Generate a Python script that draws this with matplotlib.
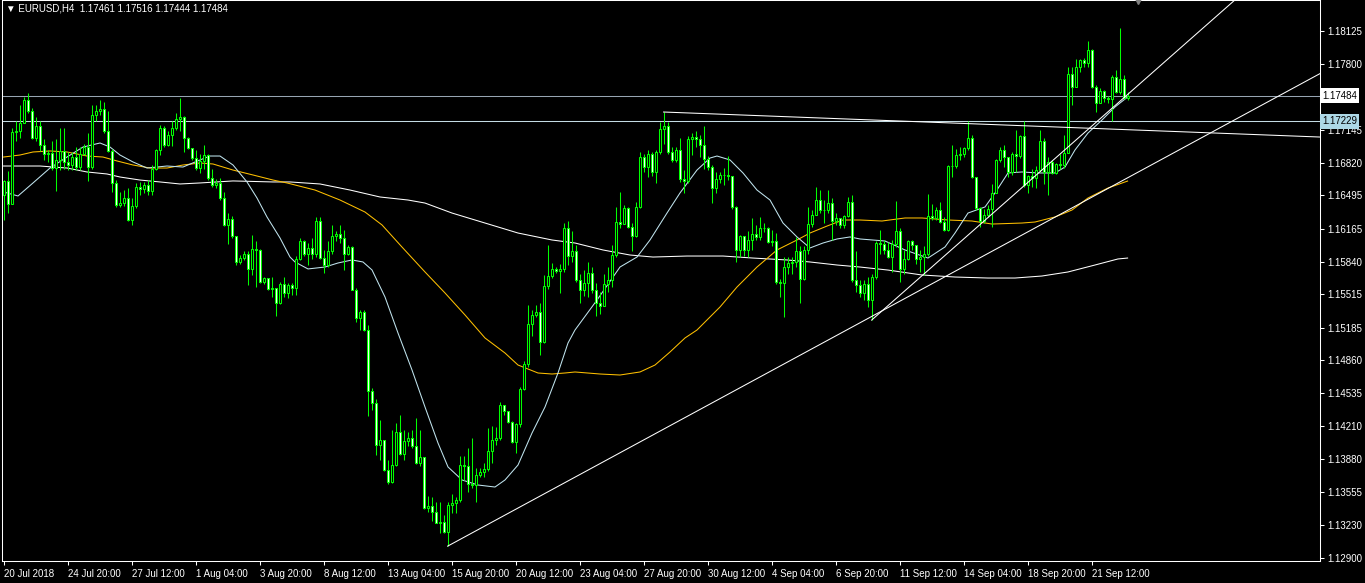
import numpy as np
import matplotlib
matplotlib.use("Agg")
import matplotlib.pyplot as plt
from matplotlib.transforms import blended_transform_factory

# ---------------------------------------------------------------
# data (bar index = position on chart)
# ---------------------------------------------------------------
symbol = "EURUSD,H4"
first_open = 1.1650

close = [
    1.1664, 1.1641, 1.1712, 1.1713, 1.1721, 1.1744, 1.1733, 1.1706, 1.1718, 1.1700,
    1.1691, 1.1692, 1.1677, 1.1685, 1.1694, 1.1683, 1.1680, 1.1688, 1.1678, 1.1691,
    1.1698, 1.1678, 1.1729, 1.1733, 1.1735, 1.1713, 1.1694, 1.1662, 1.1640, 1.1642,
    1.1647, 1.1625, 1.1639, 1.1658, 1.1656, 1.1660, 1.1654, 1.1676, 1.1695, 1.1716,
    1.1700, 1.1709, 1.1716, 1.1725, 1.1727, 1.1706, 1.1697, 1.1687, 1.1677, 1.1684,
    1.1690, 1.1667, 1.1660, 1.1662, 1.1647, 1.1620, 1.1626, 1.1609, 1.1584, 1.1588,
    1.1592, 1.1577, 1.1596, 1.1595, 1.1564, 1.1568, 1.1557, 1.1558, 1.1543, 1.1562,
    1.1553, 1.1561, 1.1558, 1.1587, 1.1604, 1.1592, 1.1597, 1.1592, 1.1624, 1.1588,
    1.1581, 1.1594, 1.1609, 1.1611, 1.1607, 1.1592, 1.1598, 1.1556, 1.1528, 1.1534,
    1.1516, 1.1456, 1.1444, 1.1402, 1.1407, 1.1377, 1.1366, 1.1382, 1.1415, 1.1393,
    1.1406, 1.1409, 1.1401, 1.1384, 1.1390, 1.1340, 1.1342, 1.1336, 1.1325, 1.1326,
    1.1316, 1.1343, 1.1345, 1.1348, 1.1382, 1.1381, 1.1364, 1.1363, 1.1373, 1.1375,
    1.1378, 1.1396, 1.1407, 1.1409, 1.1442, 1.1436, 1.1425, 1.1405, 1.1423, 1.1458,
    1.1483, 1.1522, 1.1531, 1.1534, 1.1504, 1.1560, 1.1570, 1.1577, 1.1575, 1.1577,
    1.1617, 1.1590, 1.1594, 1.1566, 1.1556, 1.1563, 1.1573, 1.1556, 1.1543, 1.1540,
    1.1562, 1.1566, 1.1591, 1.1623, 1.1621, 1.1637, 1.1618, 1.1609, 1.1638, 1.1688,
    1.1678, 1.1691, 1.1673, 1.1693, 1.1715, 1.1718, 1.1693, 1.1685, 1.1695, 1.1666,
    1.1664, 1.1705, 1.1707, 1.1705, 1.1700, 1.1686, 1.1678, 1.1657, 1.1666, 1.1670,
    1.1670, 1.1669, 1.1638, 1.1595, 1.1609, 1.1595, 1.1605, 1.1611, 1.1608, 1.1617,
    1.1617, 1.1603, 1.1604, 1.1564, 1.1563, 1.1579, 1.1583, 1.1584, 1.1594, 1.1567,
    1.1595, 1.1621, 1.1630, 1.1645, 1.1635, 1.1635, 1.1642, 1.1624, 1.1627, 1.1620,
    1.1629, 1.1643, 1.1566, 1.1561, 1.1553, 1.1562, 1.1546, 1.1569, 1.1602, 1.1601,
    1.1595, 1.1589, 1.1601, 1.1614, 1.1577, 1.1587, 1.1604, 1.1600, 1.1587, 1.1589,
    1.1592, 1.1629, 1.1627, 1.1635, 1.1623, 1.1615, 1.1679, 1.1679, 1.1690, 1.1691,
    1.1697, 1.1706, 1.1668, 1.1637, 1.1624, 1.1630, 1.1636, 1.1652, 1.1685, 1.1695,
    1.1688, 1.1673, 1.1691, 1.1689, 1.1708, 1.1660, 1.1669, 1.1667, 1.1675, 1.1703,
    1.1673, 1.1683, 1.1672, 1.1681, 1.1680, 1.1692, 1.1770, 1.1757, 1.1777, 1.1784,
    1.1781, 1.1794, 1.1757, 1.1741, 1.1753, 1.1746, 1.1745, 1.1767, 1.1752, 1.1765,
    1.17461, 1.17484,
]

high = [
    1.1665, 1.1674, 1.1716, 1.1723, 1.1739, 1.1747, 1.1751, 1.1736, 1.1727, 1.1723,
    1.1705, 1.1695, 1.1703, 1.1705, 1.1716, 1.1716, 1.1693, 1.1693, 1.1698, 1.1698,
    1.1701, 1.1711, 1.1739, 1.1739, 1.1744, 1.1742, 1.1733, 1.1696, 1.1665, 1.1653,
    1.1655, 1.1657, 1.1647, 1.1662, 1.1663, 1.1663, 1.1665, 1.1680, 1.1696, 1.1719,
    1.1718, 1.1713, 1.1723, 1.1731, 1.1746, 1.1728, 1.1707, 1.1697, 1.1695, 1.1691,
    1.1700, 1.1691, 1.1676, 1.1666, 1.1667, 1.1653, 1.1632, 1.1629, 1.1609, 1.1591,
    1.1594, 1.1594, 1.1610, 1.1604, 1.1596, 1.1569, 1.1568, 1.1569, 1.1557, 1.1564,
    1.1569, 1.1563, 1.1563, 1.1590, 1.1607, 1.1605, 1.1602, 1.1607, 1.1628, 1.1628,
    1.1595, 1.1604, 1.1620, 1.1614, 1.1620, 1.1615, 1.1600, 1.1599, 1.1558, 1.1536,
    1.1536, 1.1521, 1.1459, 1.1448, 1.1427, 1.1407, 1.1387, 1.1417, 1.1424, 1.1432,
    1.1417, 1.1415, 1.1417, 1.1429, 1.1417, 1.1390, 1.1352, 1.1351, 1.1346, 1.1346,
    1.1333, 1.1346, 1.1354, 1.1351, 1.1391, 1.1391, 1.1399, 1.1409, 1.1379, 1.1379,
    1.1384, 1.1419, 1.1421, 1.1420, 1.1445, 1.1442, 1.1435, 1.1426, 1.1424, 1.1460,
    1.1485, 1.1541, 1.1536, 1.1541, 1.1543, 1.1571, 1.1600, 1.1583, 1.1579, 1.1582,
    1.1622, 1.1624, 1.1614, 1.1600, 1.1572, 1.1576, 1.1584, 1.1579, 1.1563, 1.1554,
    1.1572, 1.1579, 1.1600, 1.1638, 1.1653, 1.1640, 1.1638, 1.1622, 1.1643, 1.1693,
    1.1691, 1.1695, 1.1693, 1.1695, 1.1722, 1.1732, 1.1722, 1.1698, 1.1698, 1.1706,
    1.1675, 1.1708, 1.1711, 1.1713, 1.1709, 1.1718, 1.1689, 1.1680, 1.1673, 1.1673,
    1.1677, 1.1689, 1.1668, 1.1639, 1.1610, 1.1609, 1.1614, 1.1627, 1.1620, 1.1628,
    1.1622, 1.1618, 1.1615, 1.1612, 1.1567, 1.1589, 1.1589, 1.1589, 1.1608, 1.1599,
    1.1599, 1.1638, 1.1635, 1.1658, 1.1655, 1.1645, 1.1655, 1.1647, 1.1632, 1.1627,
    1.1630, 1.1648, 1.1650, 1.1594, 1.1566, 1.1566, 1.1569, 1.1572, 1.1604, 1.1615,
    1.1605, 1.1603, 1.1605, 1.1644, 1.1617, 1.1595, 1.1605, 1.1605, 1.1599, 1.1595,
    1.1599, 1.1651, 1.1641, 1.1638, 1.1643, 1.1628, 1.1680, 1.1700, 1.1696, 1.1698,
    1.1698, 1.1723, 1.1709, 1.1668, 1.1638, 1.1636, 1.1640, 1.1661, 1.1686, 1.1698,
    1.1700, 1.1686, 1.1693, 1.1714, 1.1709, 1.1723, 1.1670, 1.1676, 1.1679, 1.1714,
    1.1706, 1.1688, 1.1685, 1.1682, 1.1691, 1.1709, 1.1777, 1.1777, 1.1785, 1.1785,
    1.1786, 1.1803, 1.1795, 1.1759, 1.1756, 1.1754, 1.1748, 1.1769, 1.1774, 1.1815,
    1.1769, 1.17516,
]

low = [
    1.1625, 1.1632, 1.1641, 1.1703, 1.1706, 1.1721, 1.1731, 1.1705, 1.1703, 1.1694,
    1.1685, 1.1683, 1.1675, 1.1654, 1.1675, 1.1676, 1.1675, 1.1675, 1.1675, 1.1675,
    1.1690, 1.1664, 1.1676, 1.1723, 1.1729, 1.1711, 1.1693, 1.1653, 1.1638, 1.1638,
    1.1639, 1.1624, 1.1620, 1.1637, 1.1650, 1.1652, 1.1650, 1.1650, 1.1675, 1.1690,
    1.1698, 1.1699, 1.1699, 1.1714, 1.1713, 1.1693, 1.1696, 1.1685, 1.1675, 1.1672,
    1.1676, 1.1665, 1.1658, 1.1657, 1.1645, 1.1619, 1.1601, 1.1607, 1.1581, 1.1582,
    1.1586, 1.1561, 1.1571, 1.1559, 1.1563, 1.1562, 1.1556, 1.1549, 1.1530, 1.1542,
    1.1549, 1.1548, 1.1551, 1.1551, 1.1586, 1.1590, 1.1581, 1.1587, 1.1589, 1.1587,
    1.1573, 1.1579, 1.1592, 1.1604, 1.1602, 1.1576, 1.1591, 1.1556, 1.1524, 1.1516,
    1.1515, 1.1431, 1.1437, 1.1392, 1.1387, 1.1376, 1.1364, 1.1365, 1.1381, 1.1392,
    1.1387, 1.1401, 1.1399, 1.1383, 1.1381, 1.1339, 1.1336, 1.1327, 1.1325, 1.1315,
    1.1315, 1.1302, 1.1335, 1.1335, 1.1346, 1.1368, 1.1356, 1.1360, 1.1346, 1.1371,
    1.1371, 1.1376, 1.1384, 1.1402, 1.1407, 1.1432, 1.1424, 1.1404, 1.1394, 1.1420,
    1.1457, 1.1480, 1.1510, 1.1529, 1.1491, 1.1503, 1.1557, 1.1568, 1.1573, 1.1553,
    1.1574, 1.1581, 1.1584, 1.1564, 1.1543, 1.1550, 1.1549, 1.1553, 1.1530, 1.1532,
    1.1547, 1.1554, 1.1559, 1.1589, 1.1617, 1.1621, 1.1617, 1.1594, 1.1608, 1.1637,
    1.1673, 1.1668, 1.1669, 1.1662, 1.1691, 1.1701, 1.1691, 1.1683, 1.1683, 1.1663,
    1.1652, 1.1662, 1.1690, 1.1698, 1.1688, 1.1676, 1.1675, 1.1642, 1.1652, 1.1662,
    1.1660, 1.1665, 1.1636, 1.1584, 1.1589, 1.1590, 1.1589, 1.1595, 1.1605, 1.1605,
    1.1613, 1.1602, 1.1599, 1.1562, 1.1549, 1.1529, 1.1572, 1.1572, 1.1579, 1.1543,
    1.1566, 1.1592, 1.1618, 1.1630, 1.1632, 1.1622, 1.1632, 1.1605, 1.1620, 1.1617,
    1.1617, 1.1628, 1.1564, 1.1554, 1.1549, 1.1546, 1.1539, 1.1526, 1.1567, 1.1592,
    1.1592, 1.1588, 1.1574, 1.1598, 1.1564, 1.1572, 1.1586, 1.1595, 1.1582, 1.1574,
    1.1571, 1.1590, 1.1625, 1.1625, 1.1622, 1.1614, 1.1614, 1.1668, 1.1677, 1.1685,
    1.1688, 1.1695, 1.1667, 1.1635, 1.1618, 1.1622, 1.1628, 1.1618, 1.1652, 1.1683,
    1.1678, 1.1668, 1.1670, 1.1673, 1.1687, 1.1658, 1.1652, 1.1658, 1.1657, 1.1673,
    1.1661, 1.1650, 1.1671, 1.1671, 1.1676, 1.1677, 1.1692, 1.1739, 1.1757, 1.1772,
    1.1777, 1.1777, 1.1756, 1.1732, 1.1741, 1.1742, 1.1741, 1.1723, 1.1751, 1.1750,
    1.1745, 1.17444,
]

# moving averages, vertices (bar, price)
fast_ma_bar = [0, 3.6, 7.35, 11.6, 15.85, 19.85, 24.1, 26.6, 29.1, 32.35, 35.85, 40.85,
               44.85, 49.1, 51.6, 54.1, 57.35, 60.85, 63.35, 65.85, 69.1, 71.6, 72.85,
               76.1, 80.35, 83.6, 87.1, 89.85, 92.1, 95.35, 98.6, 102.1, 105.35, 108.6,
               111.1, 114.6, 118.6, 122.85, 125.35, 128.6, 132.1, 135.35, 138.6, 141.1,
               142.85, 148.35, 154.1, 158.35, 161.6, 165.85, 169.1, 173.35, 176.6,
               178.35, 181.6, 184.85, 188.35, 191.6, 194.85, 198.35, 201.6, 204.85,
               208.35, 211.6, 214.1, 220.35, 225.35, 231.1, 235.35, 237.85, 241.1,
               245.35, 247.85, 251.1, 254.6, 258.6, 262.85, 265.35, 267.85, 271.1,
               274.6, 277.85, 281]
fast_ma_val = [1.16530, 1.16490, 1.16619, 1.16767, 1.16876, 1.16975, 1.17015, 1.16975,
               1.16896, 1.16827, 1.16767, 1.16787, 1.16777, 1.16847, 1.16886, 1.16886,
               1.16797, 1.16629, 1.16470, 1.16282, 1.16074, 1.15885, 1.15836, 1.15767,
               1.15786, 1.15826, 1.15856, 1.15836, 1.15757, 1.15489, 1.15132, 1.14766,
               1.14399, 1.14042, 1.13805, 1.13676, 1.13626, 1.13606, 1.13676, 1.13824,
               1.14141, 1.14399, 1.14736, 1.15033, 1.15162, 1.15459, 1.15786, 1.15885,
               1.16054, 1.16321, 1.16520, 1.16747, 1.16866, 1.16886, 1.16847, 1.16718,
               1.16549, 1.16450, 1.16222, 1.16084, 1.15975, 1.16024, 1.16064, 1.16084,
               1.16064, 1.16044, 1.15955, 1.15875, 1.15985, 1.16123, 1.16321, 1.16381,
               1.16520, 1.16718, 1.16728, 1.16718, 1.16718, 1.16777, 1.16946, 1.17114,
               1.17243, 1.17372, 1.17471]

mid_ma_bar = [0, 4.1, 7.35, 11.6, 15.85, 20.85, 24.85, 28.35, 32.35, 36.6, 40.85, 44.85,
              49.1, 52.35, 57.35, 62.35, 67.35, 70.85, 77.85, 84.1, 90.35, 94.6, 99.6,
              105.35, 110.35, 115.35, 120.35, 125.35, 128.6, 133.6, 137.1, 140.35,
              142.85, 149.1, 154.1, 159.1, 162.85, 166.6, 170.35, 173.35, 179.1, 183.35,
              188.35, 193.35, 198.35, 201.6, 205.85, 209.85, 214.1, 219.6, 225.35,
              229.6, 236.1, 242.1, 247.1, 254.6, 257.85, 262.85, 267.1, 271.1, 276.1,
              281]
mid_ma_val = [1.16876, 1.16896, 1.16926, 1.16936, 1.16926, 1.16886, 1.16876, 1.16837,
              1.16797, 1.16767, 1.16767, 1.16797, 1.16817, 1.16807, 1.16747, 1.16698,
              1.16648, 1.16619, 1.16549, 1.16450, 1.16331, 1.16203, 1.15984, 1.15737,
              1.15529, 1.15311, 1.15083, 1.14934, 1.14815, 1.14736, 1.14726, 1.14736,
              1.14746, 1.14726, 1.14716, 1.14746, 1.14815, 1.14944, 1.15083, 1.15162,
              1.15390, 1.15588, 1.15786, 1.15955, 1.16054, 1.16123, 1.16192, 1.16252,
              1.16252, 1.16242, 1.16272, 1.16272, 1.16252, 1.16242, 1.16212, 1.16222,
              1.16232, 1.16282, 1.16351, 1.16470, 1.16569, 1.16638]

slow_ma_bar = [0, 9.1, 15.85, 20.85, 25.85, 29.1, 34.1, 39.1, 44.1, 49.1, 57.35, 67.35,
               71.6, 79.1, 86.6, 94.1, 101.1, 105.35, 112.1, 120.35, 128.6, 137.1,
               142.85, 149.85, 156.6, 162.35, 170.85, 179.85, 187.35, 195.85, 201.6,
               208.35, 214.1, 221.1, 229.6, 237.85, 246.1, 252.85, 259.6, 266.1,
               272.85, 278.6, 281]
slow_ma_val = [1.16787, 1.16787, 1.16767, 1.16728, 1.16708, 1.16678, 1.16648, 1.16629,
               1.16609, 1.16619, 1.16639, 1.16629, 1.16629, 1.16609, 1.16549, 1.16480,
               1.16450, 1.16420, 1.16321, 1.16222, 1.16123, 1.16054, 1.16024, 1.15955,
               1.15905, 1.15885, 1.15895, 1.15895, 1.15875, 1.15856, 1.15836, 1.15806,
               1.15786, 1.15756, 1.15707, 1.15687, 1.15677, 1.15677, 1.15697, 1.15737,
               1.15806, 1.15866, 1.15875]

# trend lines: two anchor points each (bar, price), drawn as rays to the right
trend_lines = [
    ((111, 1.1302), (281, 1.1667)),
    ((217, 1.1526), (282.85, 1.1756)),
    ((165, 1.17322), (282.85, 1.17144)),
]
level_line = 1.17229

price_ticks = [1.12900, 1.13230, 1.13555, 1.13880, 1.14210, 1.14535, 1.14860, 1.15185,
               1.15515, 1.15840, 1.16165, 1.16495, 1.16820, 1.17145, 1.17800, 1.18125]
date_labels = ["20 Jul 2018", "24 Jul 20:00", "27 Jul 12:00", "1 Aug 04:00",
               "3 Aug 20:00", "8 Aug 12:00", "13 Aug 04:00", "15 Aug 20:00",
               "20 Aug 12:00", "23 Aug 04:00", "27 Aug 20:00", "30 Aug 12:00",
               "4 Sep 04:00", "6 Sep 20:00", "11 Sep 12:00", "14 Sep 04:00",
               "18 Sep 20:00", "21 Sep 12:00"]
bars_per_label = 16

# ---------------------------------------------------------------
close = np.array(close)
openp = np.concatenate([[first_open], close[:-1]])
high = np.maximum.reduce([np.array(high), openp, close])
low = np.minimum.reduce([np.array(low), openp, close])
x = np.arange(len(close))

LIME = "#00ff00"
LW = 0.75
plt.rcParams["font.family"] = ["Liberation Sans", "DejaVu Sans"]

fig = plt.figure(figsize=(13.65, 5.83), dpi=100, facecolor="black")
ax = fig.add_axes([2 / 1365, 22 / 583, 1318 / 1365, 561 / 583], facecolor="black")

# candles
ax.vlines(x, low, high, color=LIME, lw=LW, zorder=3)
bear = close < openp
body_fill = np.where(bear, "white", "black")
ax.bar(x, close - openp, bottom=openp, width=0.5, color=body_fill,
       edgecolor=LIME, linewidth=LW, zorder=4)

# moving averages
ax.plot(slow_ma_bar, slow_ma_val, color="white", lw=LW, zorder=2)
ax.plot(mid_ma_bar, mid_ma_val, color="#ffc000", lw=LW, zorder=2)
ax.plot(fast_ma_bar, fast_ma_val, color="#c0e4ee", lw=LW, zorder=2)

xmin, xmax = -0.4, 329.1
ymin, ymax = 1.12873, 1.18432

# trend lines (rays)
for (b0, p0), (b1, p1) in trend_lines:
    slope = (p1 - p0) / (b1 - b0)
    ax.plot([b0, xmax], [p0, p0 + slope * (xmax - b0)], color="white", lw=LW, zorder=5)

# horizontal lines
ax.axhline(close[-1], color="#97a4b2", lw=LW, zorder=1)
ax.axhline(level_line, color="#c4dce4", lw=LW, zorder=1)

# chart shift marker
ax.plot([len(close) + 1.5], [ymax], marker="v", ms=6, color="#808080",
        clip_on=False, zorder=6)

ax.set_xlim(xmin, xmax)
ax.set_ylim(ymin, ymax)

for s in ax.spines.values():
    s.set_color("white")
    s.set_linewidth(LW)

ax.yaxis.tick_right()
ax.set_yticks(price_ticks)
ax.set_yticklabels([f"{p:.5f}" for p in price_ticks])
ax.set_xticks(np.arange(len(date_labels)) * bars_per_label)
ax.set_xticklabels(date_labels, ha="left")
ax.tick_params(axis="both", colors="white", labelsize=7, length=3, width=LW,
               direction="out")
ax.tick_params(axis="y", pad=2)
ax.tick_params(axis="x", pad=2.5)

# price tags on the right scale
tr = blended_transform_factory(ax.transAxes, ax.transData)
ax.text(1.0015, close[-1], f"{close[-1]:.5f}", transform=tr, ha="left", va="center",
        fontsize=7, color="black", zorder=10, clip_on=False,
        bbox=dict(boxstyle="square,pad=0.25", fc="white", ec="none"))
ax.text(1.0015, level_line, f"{level_line:.5f}", transform=tr, ha="left", va="center",
        fontsize=7, color="black", zorder=10, clip_on=False,
        bbox=dict(boxstyle="square,pad=0.25", fc="#add8e6", ec="none"))

# header
header = "\u25BC {}  {:.5f} {:.5f} {:.5f} {:.5f}".format(
    symbol, openp[-1], high[-1], low[-1], close[-1])
ax.text(0.003, 0.984, header, transform=ax.transAxes, ha="left", va="center",
        fontsize=7, color="white", zorder=10)

fig.savefig("out.png", dpi=100, facecolor="black")
